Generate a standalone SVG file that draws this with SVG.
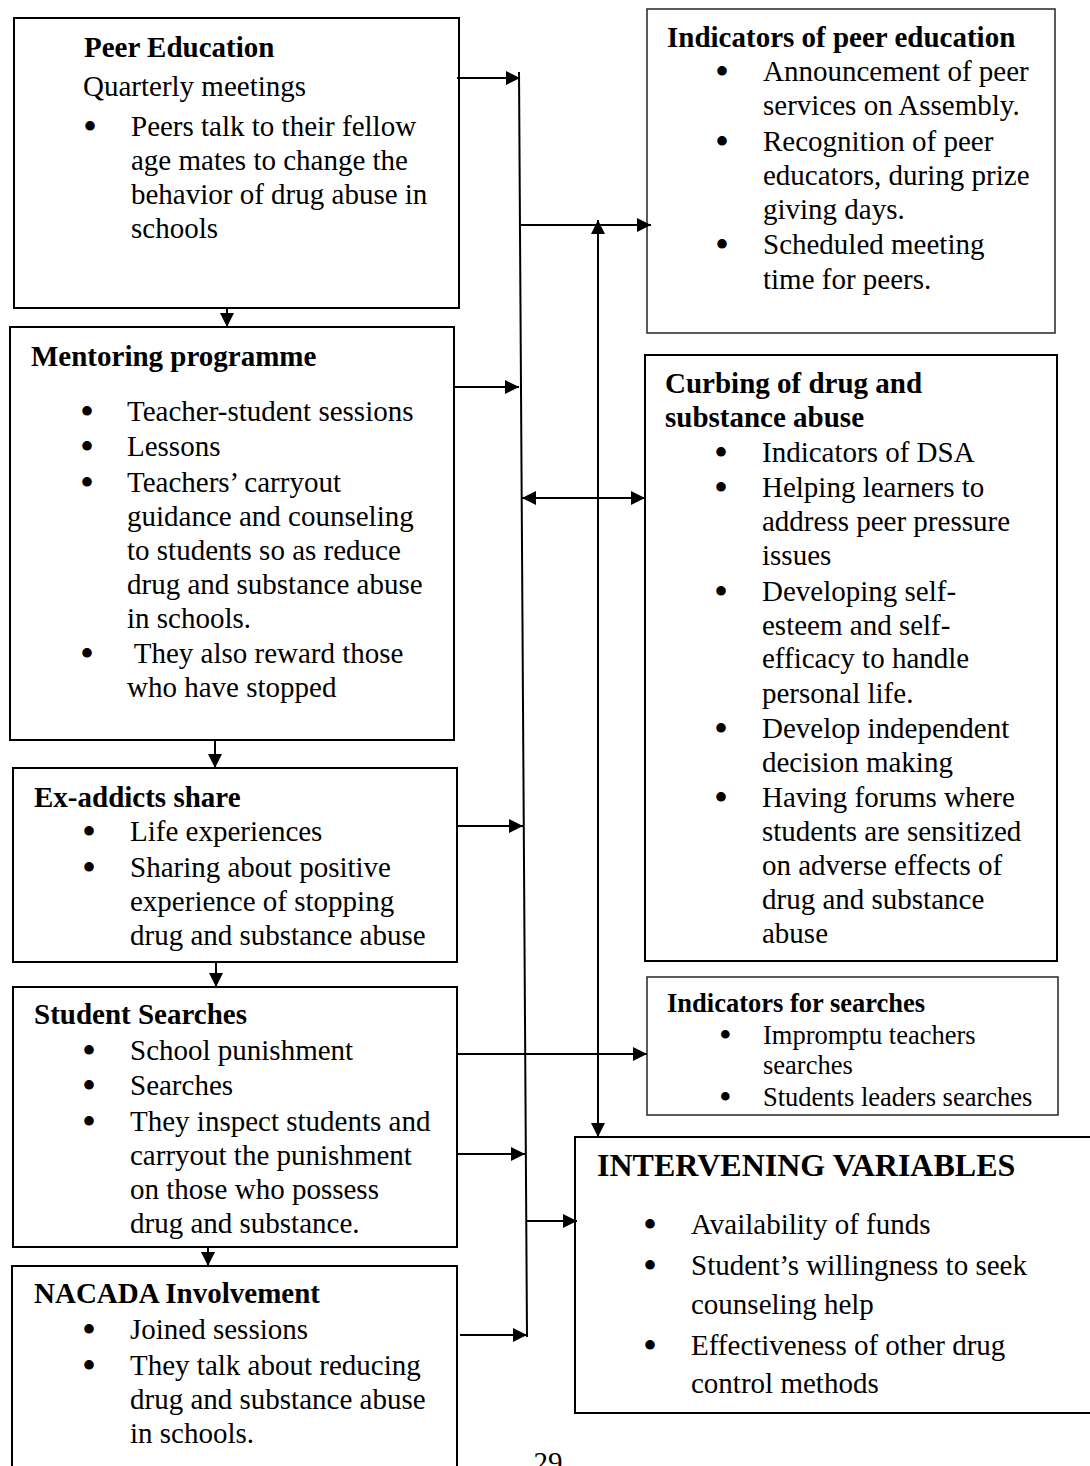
<svg xmlns="http://www.w3.org/2000/svg" width="1090" height="1466" viewBox="0 0 1090 1466">
<style>
text{font-family:"Liberation Serif","Times New Roman",serif;font-size:29px;fill:#000}
.h{font-weight:bold}
.s{font-size:26.5px}
.b{font-size:40px}
.bs{font-size:36px}
.box{fill:#fff;stroke:#000;stroke-width:2}
.thin{fill:#fff;stroke:#333;stroke-width:1.6}
.c{stroke:#000;stroke-width:2;fill:none}
</style>
<defs>
<marker id="a" viewBox="0 0 14 14" refX="14" refY="7" markerWidth="14" markerHeight="14" markerUnits="userSpaceOnUse" orient="auto-start-reverse"><path d="M0,0 L14,7 L0,14 z" fill="#000"/></marker>
</defs>
<rect width="1090" height="1466" fill="#fff"/>

<g id="peer-education">
<rect class="box" x="14" y="18" width="445" height="290"/>
<text class="h" x="84" y="57">Peer Education</text>
<text x="83" y="96">Quarterly meetings</text>
<text><tspan class="b" x="83" y="140">•</tspan><tspan x="131" y="136">Peers talk to their fellow</tspan></text>
<text x="131" y="170">age mates to change the</text>
<text x="131" y="204">behavior of drug abuse in</text>
<text x="131" y="238">schools</text>
</g>

<g id="mentoring">
<rect class="box" x="10" y="327" width="444" height="413"/>
<text class="h" x="31" y="366">Mentoring programme</text>
<text><tspan class="b" x="80" y="425">•</tspan><tspan x="127" y="421">Teacher-student sessions</tspan></text>
<text><tspan class="b" x="80" y="460">•</tspan><tspan x="127" y="456">Lessons</tspan></text>
<text><tspan class="b" x="80" y="496">•</tspan><tspan x="127" y="492">Teachers’ carryout</tspan></text>
<text x="127" y="526">guidance and counseling</text>
<text x="127" y="560">to students so as reduce</text>
<text x="127" y="594">drug and substance abuse</text>
<text x="127" y="628">in schools.</text>
<text><tspan class="b" x="80" y="667">•</tspan><tspan x="127" y="663"> They also reward those</tspan></text>
<text x="127" y="697">who have stopped</text>
</g>

<g id="ex-addicts">
<rect class="box" x="13" y="768" width="444" height="194"/>
<text class="h" x="34" y="807">Ex-addicts share</text>
<text><tspan class="b" x="82" y="845">•</tspan><tspan x="130" y="841">Life experiences</tspan></text>
<text><tspan class="b" x="82" y="881">•</tspan><tspan x="130" y="877">Sharing about positive</tspan></text>
<text x="130" y="911">experience of stopping</text>
<text x="130" y="945">drug and substance abuse</text>
</g>

<g id="student-searches">
<rect class="box" x="13" y="987" width="444" height="260"/>
<text class="h" x="34" y="1024">Student Searches</text>
<text><tspan class="b" x="82" y="1064">•</tspan><tspan x="130" y="1060">School punishment</tspan></text>
<text><tspan class="b" x="82" y="1099">•</tspan><tspan x="130" y="1095">Searches</tspan></text>
<text><tspan class="b" x="82" y="1135">•</tspan><tspan x="130" y="1131">They inspect students and</tspan></text>
<text x="130" y="1165">carryout the punishment</text>
<text x="130" y="1199">on those who possess</text>
<text x="130" y="1233">drug and substance.</text>
</g>

<g id="nacada">
<rect class="box" x="12" y="1266" width="445" height="220"/>
<text class="h" x="34" y="1303">NACADA Involvement</text>
<text><tspan class="b" x="82" y="1343">•</tspan><tspan x="130" y="1339">Joined sessions</tspan></text>
<text><tspan class="b" x="82" y="1379">•</tspan><tspan x="130" y="1375">They talk about reducing</tspan></text>
<text x="130" y="1409">drug and substance abuse</text>
<text x="130" y="1443">in schools.</text>
</g>

<g id="indicators-peer">
<rect class="thin" x="647" y="9" width="408" height="324"/>
<text class="h" x="667" y="47">Indicators of peer education</text>
<text><tspan class="b" x="715" y="85">•</tspan><tspan x="763" y="81">Announcement of peer</tspan></text>
<text x="763" y="115">services on Assembly.</text>
<text><tspan class="b" x="715" y="155">•</tspan><tspan x="763" y="151">Recognition of peer</tspan></text>
<text x="763" y="185">educators, during prize</text>
<text x="763" y="219">giving days.</text>
<text><tspan class="b" x="715" y="258">•</tspan><tspan x="763" y="254">Scheduled meeting</tspan></text>
<text x="763" y="289">time for peers.</text>
</g>

<g id="curbing">
<rect class="box" x="645" y="355" width="412" height="606"/>
<text class="h" x="665" y="393">Curbing of drug and</text>
<text class="h" x="665" y="427">substance abuse</text>
<text><tspan class="b" x="714" y="466">•</tspan><tspan x="762" y="462">Indicators of DSA</tspan></text>
<text><tspan class="b" x="714" y="501">•</tspan><tspan x="762" y="497">Helping learners to</tspan></text>
<text x="762" y="531">address peer pressure</text>
<text x="762" y="565">issues</text>
<text><tspan class="b" x="714" y="605">•</tspan><tspan x="762" y="601">Developing self-</tspan></text>
<text x="762" y="635">esteem and self-</text>
<text x="762" y="668">efficacy to handle</text>
<text x="762" y="703">personal life.</text>
<text><tspan class="b" x="714" y="742">•</tspan><tspan x="762" y="738">Develop independent</tspan></text>
<text x="762" y="772">decision making</text>
<text><tspan class="b" x="714" y="811">•</tspan><tspan x="762" y="807">Having forums where</tspan></text>
<text x="762" y="841">students are sensitized</text>
<text x="762" y="875">on adverse effects of</text>
<text x="762" y="909">drug and substance</text>
<text x="762" y="943">abuse</text>
</g>

<g id="indicators-searches">
<rect class="thin" x="647" y="977" width="411" height="138"/>
<text class="h s" x="667" y="1012">Indicators for searches</text>
<text class="s"><tspan class="bs" x="719" y="1047">•</tspan><tspan x="763" y="1044">Impromptu teachers</tspan></text>
<text class="s" x="763" y="1074">searches</text>
<text class="s"><tspan class="bs" x="719" y="1109">•</tspan><tspan x="763" y="1106">Students leaders searches</tspan></text>
</g>

<g id="intervening">
<rect class="box" x="575" y="1137" width="530" height="276"/>
<text class="h" x="597" y="1176" style="font-size:32px">INTERVENING VARIABLES</text>
<text><tspan class="b" x="643" y="1238">•</tspan><tspan x="691" y="1234">Availability of funds</tspan></text>
<text><tspan class="b" x="643" y="1279">•</tspan><tspan x="691" y="1275">Student’s willingness to seek</tspan></text>
<text x="691" y="1314">counseling help</text>
<text><tspan class="b" x="643" y="1359">•</tspan><tspan x="691" y="1355">Effectiveness of other drug</tspan></text>
<text x="691" y="1393">control methods</text>
</g>

<g id="connectors">
<line class="c" x1="519" y1="72" x2="527" y2="1337"/>
<line class="c" x1="457" y1="78" x2="520" y2="78" marker-end="url(#a)"/>
<line class="c" x1="454" y1="387" x2="519" y2="387" marker-end="url(#a)"/>
<line class="c" x1="457" y1="826" x2="523" y2="826" marker-end="url(#a)"/>
<line class="c" x1="457" y1="1154" x2="525" y2="1154" marker-end="url(#a)"/>
<line class="c" x1="460" y1="1335" x2="527" y2="1335" marker-end="url(#a)"/>
<line class="c" x1="520" y1="225" x2="651" y2="225" stroke="#333" marker-end="url(#a)"/>
<line class="c" x1="598" y1="1137" x2="598" y2="220" stroke="#333" marker-start="url(#a)" marker-end="url(#a)"/>
<line class="c" x1="522" y1="498" x2="645" y2="498" marker-start="url(#a)" marker-end="url(#a)"/>
<line class="c" x1="457" y1="1054" x2="647" y2="1054" marker-end="url(#a)"/>
<line class="c" x1="526" y1="1221" x2="577" y2="1221" marker-end="url(#a)"/>
<line class="c" x1="227" y1="308" x2="227" y2="327" marker-end="url(#a)"/>
<line class="c" x1="215" y1="740" x2="215" y2="768" marker-end="url(#a)"/>
<line class="c" x1="216" y1="962" x2="216" y2="987" marker-end="url(#a)"/>
<line class="c" x1="208" y1="1247" x2="208" y2="1266" marker-end="url(#a)"/>
</g>

<text x="548" y="1472" text-anchor="middle">29</text>
</svg>
